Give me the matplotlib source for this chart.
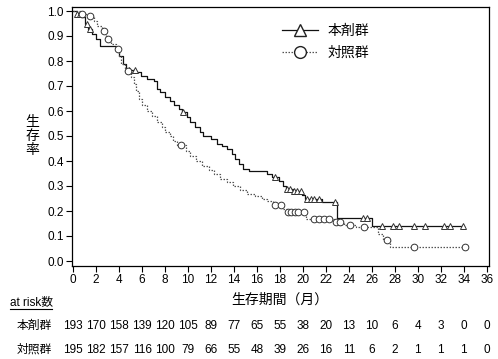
import numpy as np
import matplotlib
matplotlib.use("Agg")
import matplotlib.pyplot as plt
from matplotlib.lines import Line2D

plt.rcParams['font.family'] = ['Liberation Sans', 'Noto Sans CJK JP', 'DejaVu Sans']

# --- data (KM step curves) ---
trt_t = [0, 0.3, 0.7, 1.0, 1.3, 1.6, 2.0, 2.3, 3.7, 4.0, 4.3, 4.6, 5.5, 5.9, 6.4, 7.0,
         7.3, 7.6, 8.0, 8.4, 8.8, 9.2, 9.5, 9.9, 10.2, 10.6, 11.0, 11.3, 12.0, 12.5,
         13.0, 13.4, 13.8, 14.1, 14.4, 14.8, 15.3, 16.9, 17.3, 17.9, 18.3, 18.5, 19.1,
         19.9, 20.2, 21.7, 23.0, 26.0, 34.0]
trt_s = [1.0, 0.99, 0.975, 0.95, 0.93, 0.91, 0.89, 0.86, 0.845, 0.82, 0.79, 0.765, 0.755,
         0.74, 0.73, 0.72, 0.69, 0.675, 0.655, 0.64, 0.625, 0.61, 0.595, 0.575, 0.555,
         0.535, 0.515, 0.50, 0.49, 0.47, 0.46, 0.45, 0.43, 0.41, 0.39, 0.37, 0.36, 0.35,
         0.335, 0.32, 0.30, 0.29, 0.28, 0.265, 0.25, 0.235, 0.172, 0.14, 0.14]
trt_cens = [0.3, 0.6, 1.2, 1.5, 4.9, 5.4, 9.6, 17.6, 18.6, 18.9, 19.2, 19.5, 19.8, 20.4,
            20.7, 21.0, 21.4, 22.8, 25.2, 25.6, 26.9, 27.8, 28.4, 29.7, 30.6, 32.3, 32.8, 33.9]

ctl_t = [0, 0.7, 1.3, 1.8, 2.1, 2.5, 2.9, 3.3, 3.7, 4.0, 4.2, 4.5, 5.0, 5.3, 5.5, 5.7, 6.0,
         6.4, 6.9, 7.3, 7.7, 8.0, 8.4, 8.7, 9.0, 9.8, 10.2, 10.7, 11.2, 11.8, 12.3, 12.8,
         13.4, 13.9, 14.5, 15.1, 15.8, 16.4, 16.9, 17.4, 18.3, 18.6, 20.3, 22.7, 23.6,
         24.6, 26.5, 27.0, 27.6, 34.1]
ctl_s = [1.0, 0.99, 0.98, 0.96, 0.94, 0.92, 0.89, 0.87, 0.85, 0.82, 0.79, 0.76, 0.735,
         0.71, 0.68, 0.65, 0.625, 0.60, 0.58, 0.555, 0.535, 0.515, 0.50, 0.48, 0.465,
         0.44, 0.42, 0.40, 0.38, 0.365, 0.35, 0.33, 0.315, 0.30, 0.285, 0.27, 0.26, 0.25,
         0.24, 0.225, 0.21, 0.198, 0.17, 0.158, 0.146, 0.135, 0.11, 0.085, 0.056, 0.056]
ctl_cens = [0.8, 1.5, 2.7, 3.0, 3.9, 4.8, 9.4, 17.6, 18.1, 18.7, 19.0, 19.3, 19.6, 20.1,
            21.0, 21.4, 21.8, 22.3, 22.9, 23.2, 24.1, 25.3, 27.3, 29.7, 34.1]

risk_times = list(range(0, 37, 2))
risk_trt = [193, 170, 158, 139, 120, 105, 89, 77, 65, 55, 38, 20, 13, 10, 6, 4, 3, 0, 0]
risk_ctl = [195, 182, 157, 116, 100, 79, 66, 55, 48, 39, 26, 16, 11, 6, 2, 1, 1, 1, 0]
group_names = ['本剤群', '対照群']


def at(times, surv, c):
    i = np.searchsorted(times, c, side='right') - 1
    return np.asarray(surv)[i]


fig = plt.figure(figsize=(4.98, 3.59), dpi=100)
ax = fig.add_axes([72 / 498, 1 - 266 / 359, 417 / 498, 259 / 359])

ax.step(trt_t, trt_s, where='post', color='#111111', lw=0.9)
ax.step(ctl_t, ctl_s, where='post', color='#555555', lw=0.9, ls=(0, (1.2, 1.2)))
ax.plot(trt_cens, at(trt_t, trt_s, trt_cens), ls='none', marker='^', ms=4.8,
        mfc='white', mec='#333333', mew=0.7)
ax.plot(ctl_cens, at(ctl_t, ctl_s, ctl_cens), ls='none', marker='o', ms=4.8,
        mfc='white', mec='#333333', mew=0.7)

ax.set_xlim(-0.1, 36.2)
ax.set_ylim(-0.02, 1.016)
ax.set_xticks(risk_times)
ax.set_yticks(np.arange(0, 1.01, 0.1))
ax.yaxis.set_major_formatter(matplotlib.ticker.FormatStrFormatter('%.1f'))
ax.tick_params(direction='out', length=4, width=0.8, labelsize=8.5, pad=2)
for s in ax.spines.values():
    s.set_linewidth(0.9)

handles = [Line2D([], [], color='#111111', lw=0.9, marker='^', ms=8.5, mfc='white', mec='#222222'),
           Line2D([], [], color='#555555', lw=0.9, ls=(0, (1.2, 1.2)), marker='o', ms=8.5,
                  mfc='white', mec='#222222')]
ax.legend(handles, group_names, loc='upper left', bbox_to_anchor=(0.504, 0.935),
          frameon=False, fontsize=10, handlelength=2.6, handletextpad=0.7,
          labelspacing=0.55, borderpad=0, borderaxespad=0)

fig.text(32 / 498, 1 - 136 / 359, '生\n存\n率', ha='center', va='center',
         fontsize=10, linespacing=1.0)
fig.text(280 / 498, 1 - 300 / 359, '生存期間（月）', ha='center', va='center', fontsize=10)

# at-risk table
fig.text(10 / 498, 1 - 302 / 359, 'at risk数', ha='left', va='center', fontsize=8.5)
fig.add_artist(Line2D([10 / 498, 52 / 498], [1 - 309 / 359, 1 - 309 / 359],
                      color='black', lw=0.8))
for row, (name, vals) in enumerate(zip(group_names, [risk_trt, risk_ctl])):
    y = 1 - (326 + 24 * row) / 359
    fig.text(52 / 498, y, name, ha='right', va='center', fontsize=8.5)
    for t, v in zip(risk_times, vals):
        xf = ax.transData.transform((t, 0))[0] / fig.bbox.width
        fig.text(xf, y, str(v), ha='center', va='center', fontsize=8.5)

fig.savefig('out.png', dpi=100)
